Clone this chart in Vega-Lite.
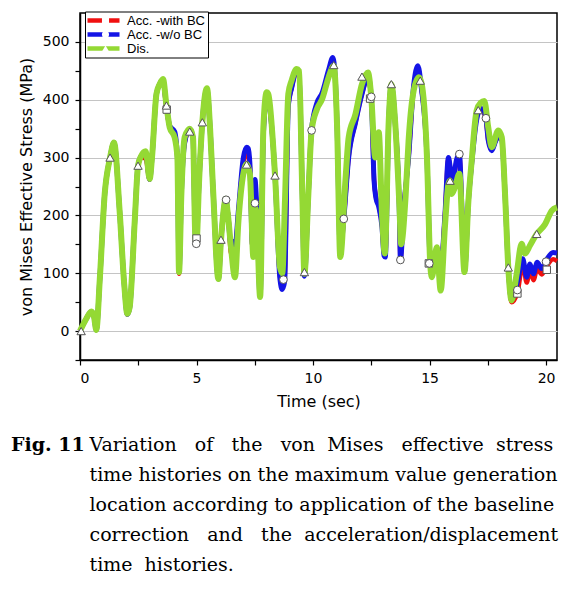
{
  "$schema": "https://vega.github.io/schema/vega-lite/v6.json",
  "autosize": {"type": "none"},
  "padding": {"left": 80, "top": 13, "right": 23, "bottom": 230},
  "width": 477,
  "height": 347,
  "background": "white",
  "config": {
    "view": {"stroke": "black", "strokeWidth": 1.5},
    "legend": {"rowPadding": 0},
    "axis": {
      "labelFont": "DejaVu Sans", "labelFontSize": 14, "labelColor": "black",
      "titleFont": "DejaVu Sans", "titleFontSize": 16, "titleFontWeight": "normal", "titleColor": "black",
      "domainColor": "black", "domainWidth": 1.5, "tickColor": "black", "tickWidth": 1.2, "tickSize": 5,
      "gridColor": "#c4c4c4", "gridWidth": 1
    }
  },
  "title": {
    "text": "Fig. 11",
    "subtitle": [
      "\u200b\u00a0\u00a0\u00a0\u00a0\u00a0\u00a0\u00a0\u00a0\u00a0\u00a0\u00a0\u00a0\u00a0Variation \u00a0\u00a0of \u00a0\u00a0the \u00a0\u00a0von \u00a0Mises \u00a0\u00a0effective \u00a0stress",
      "\u200b\u00a0\u00a0\u00a0\u00a0\u00a0\u00a0\u00a0\u00a0\u00a0\u00a0\u00a0\u00a0\u00a0time histories on the maximum value generation",
      "\u200b\u00a0\u00a0\u00a0\u00a0\u00a0\u00a0\u00a0\u00a0\u00a0\u00a0\u00a0\u00a0\u00a0location according to application of the baseline",
      "\u200b\u00a0\u00a0\u00a0\u00a0\u00a0\u00a0\u00a0\u00a0\u00a0\u00a0\u00a0\u00a0\u00a0correction \u00a0\u00a0and \u00a0\u00a0the \u00a0acceleration/displacement",
      "\u200b\u00a0\u00a0\u00a0\u00a0\u00a0\u00a0\u00a0\u00a0\u00a0\u00a0\u00a0\u00a0\u00a0time \u00a0histories."
    ],
    "orient": "bottom", "anchor": "start", "frame": "group", "dx": -69, "offset": 27,
    "font": "DejaVu Serif", "fontSize": 19, "fontWeight": "bold", "color": "black",
    "subtitleFont": "DejaVu Serif", "subtitleFontSize": 19, "subtitleColor": "black",
    "subtitleLineHeight": 30, "subtitlePadding": -19
  },
  "datasets": {
    "dis": [
      {"t":0,"v":0},{"t":0.25,"v":20},{"t":0.49,"v":34},{"t":0.6,"v":25},{"t":0.7,"v":2},{"t":0.85,"v":90},{"t":1.06,"v":237},{"t":1.29,"v":300},{"t":1.46,"v":326},{"t":1.7,"v":208},{"t":1.9,"v":80},{"t":2.03,"v":30},{"t":2.13,"v":41},{"t":2.35,"v":191},{"t":2.49,"v":286},{"t":2.63,"v":303},{"t":2.82,"v":311},{"t":2.99,"v":263},{"t":3.09,"v":300},{"t":3.28,"v":410},{"t":3.42,"v":427},{"t":3.56,"v":436},{"t":3.71,"v":390},{"t":3.85,"v":352},{"t":4.06,"v":335},{"t":4.18,"v":300},{"t":4.25,"v":102},{"t":4.35,"v":237},{"t":4.49,"v":335},{"t":4.71,"v":350},{"t":4.85,"v":335},{"t":4.95,"v":162},{"t":5.0,"v":152},{"t":5.1,"v":250},{"t":5.25,"v":361},{"t":5.45,"v":420},{"t":5.58,"v":352},{"t":5.72,"v":237},{"t":5.94,"v":90},{"t":6.05,"v":157},{"t":6.2,"v":220},{"t":6.25,"v":229},{"t":6.35,"v":200},{"t":6.48,"v":145},{"t":6.65,"v":93},{"t":6.8,"v":191},{"t":7.01,"v":272},{"t":7.15,"v":289},{"t":7.29,"v":272},{"t":7.44,"v":128},{"t":7.51,"v":214},{"t":7.58,"v":200},{"t":7.73,"v":59},{"t":7.87,"v":352},{"t":8.01,"v":413},{"t":8.08,"v":410},{"t":8.37,"v":269},{"t":8.58,"v":111},{"t":8.68,"v":100},{"t":8.8,"v":230},{"t":8.94,"v":410},{"t":9.08,"v":433},{"t":9.3,"v":453},{"t":9.4,"v":450},{"t":9.54,"v":237},{"t":9.63,"v":99},{"t":9.8,"v":237},{"t":9.94,"v":347},{"t":10.17,"v":384},{"t":10.39,"v":401},{"t":10.67,"v":439},{"t":10.89,"v":459},{"t":11.03,"v":358},{"t":11.17,"v":128},{"t":11.39,"v":260},{"t":11.53,"v":335},{"t":11.82,"v":375},{"t":12.1,"v":427},{"t":12.36,"v":447},{"t":12.5,"v":404},{"t":12.67,"v":300},{"t":12.75,"v":330},{"t":12.82,"v":344},{"t":12.96,"v":203},{"t":13.08,"v":134},{"t":13.25,"v":364},{"t":13.36,"v":427},{"t":13.53,"v":358},{"t":13.71,"v":214},{"t":13.78,"v":150},{"t":13.97,"v":231},{"t":14.1,"v":329},{"t":14.32,"v":416},{"t":14.54,"v":439},{"t":14.65,"v":430},{"t":14.89,"v":300},{"t":15.03,"v":116},{"t":15.1,"v":93},{"t":15.31,"v":145},{"t":15.48,"v":70},{"t":15.66,"v":180},{"t":15.81,"v":254},{"t":15.88,"v":260},{"t":15.95,"v":237},{"t":16.1,"v":250},{"t":16.28,"v":272},{"t":16.5,"v":102},{"t":16.67,"v":226},{"t":16.81,"v":295},{"t":17.02,"v":381},{"t":17.2,"v":395},{"t":17.35,"v":398},{"t":17.52,"v":352},{"t":17.67,"v":318},{"t":17.95,"v":347},{"t":18.1,"v":335},{"t":18.24,"v":237},{"t":18.38,"v":110},{"t":18.52,"v":53},{"t":18.74,"v":99},{"t":18.95,"v":151},{"t":19.1,"v":134},{"t":19.31,"v":148},{"t":19.6,"v":168},{"t":19.96,"v":185},{"t":20.24,"v":208},{"t":20.47,"v":214}
    ],
    "wo": [
      {"t":0,"v":0},{"t":0.25,"v":20},{"t":0.49,"v":34},{"t":0.6,"v":25},{"t":0.7,"v":2},{"t":0.85,"v":90},{"t":1.06,"v":237},{"t":1.29,"v":300},{"t":1.46,"v":326},{"t":1.7,"v":208},{"t":1.9,"v":80},{"t":2.03,"v":29},{"t":2.13,"v":40},{"t":2.35,"v":191},{"t":2.49,"v":286},{"t":2.63,"v":303},{"t":2.82,"v":308},{"t":2.99,"v":262},{"t":3.09,"v":300},{"t":3.28,"v":410},{"t":3.42,"v":427},{"t":3.56,"v":434},{"t":3.71,"v":388},{"t":3.85,"v":355},{"t":4.06,"v":345},{"t":4.18,"v":300},{"t":4.25,"v":102},{"t":4.35,"v":237},{"t":4.49,"v":325},{"t":4.71,"v":350},{"t":4.85,"v":335},{"t":4.95,"v":162},{"t":5.0,"v":158},{"t":5.1,"v":250},{"t":5.25,"v":361},{"t":5.45,"v":418},{"t":5.58,"v":352},{"t":5.72,"v":237},{"t":5.94,"v":90},{"t":6.05,"v":157},{"t":6.2,"v":220},{"t":6.25,"v":229},{"t":6.35,"v":200},{"t":6.48,"v":150},{"t":6.58,"v":155},{"t":6.65,"v":145},{"t":6.8,"v":210},{"t":7.01,"v":300},{"t":7.15,"v":318},{"t":7.22,"v":316},{"t":7.29,"v":290},{"t":7.4,"v":150},{"t":7.51,"v":262},{"t":7.58,"v":220},{"t":7.73,"v":60},{"t":7.87,"v":340},{"t":8.01,"v":405},{"t":8.08,"v":400},{"t":8.37,"v":269},{"t":8.58,"v":90},{"t":8.68,"v":72},{"t":8.78,"v":85},{"t":8.94,"v":390},{"t":9.08,"v":420},{"t":9.3,"v":450},{"t":9.4,"v":448},{"t":9.54,"v":237},{"t":9.63,"v":95},{"t":9.8,"v":237},{"t":9.94,"v":350},{"t":10.17,"v":395},{"t":10.39,"v":412},{"t":10.67,"v":452},{"t":10.85,"v":473},{"t":10.95,"v":440},{"t":11.03,"v":358},{"t":11.17,"v":140},{"t":11.32,"v":194},{"t":11.53,"v":300},{"t":11.82,"v":360},{"t":12.1,"v":410},{"t":12.36,"v":440},{"t":12.5,"v":404},{"t":12.62,"v":260},{"t":12.7,"v":230},{"t":12.82,"v":215},{"t":12.96,"v":180},{"t":13.05,"v":130},{"t":13.1,"v":128},{"t":13.25,"v":364},{"t":13.36,"v":425},{"t":13.53,"v":358},{"t":13.71,"v":200},{"t":13.75,"v":123},{"t":13.9,"v":215},{"t":14.1,"v":300},{"t":14.32,"v":425},{"t":14.5,"v":459},{"t":14.65,"v":420},{"t":14.89,"v":300},{"t":15.03,"v":117},{"t":15.1,"v":105},{"t":15.31,"v":130},{"t":15.45,"v":95},{"t":15.66,"v":200},{"t":15.81,"v":300},{"t":15.9,"v":280},{"t":16.0,"v":258},{"t":16.15,"v":295},{"t":16.28,"v":306},{"t":16.4,"v":200},{"t":16.5,"v":102},{"t":16.67,"v":226},{"t":16.81,"v":290},{"t":17.02,"v":365},{"t":17.2,"v":385},{"t":17.35,"v":378},{"t":17.42,"v":368},{"t":17.52,"v":330},{"t":17.67,"v":312},{"t":17.85,"v":330},{"t":17.95,"v":336},{"t":18.1,"v":330},{"t":18.24,"v":237},{"t":18.38,"v":110},{"t":18.52,"v":55},{"t":18.78,"v":87},{"t":19.0,"v":125},{"t":19.17,"v":93},{"t":19.31,"v":116},{"t":19.46,"v":99},{"t":19.62,"v":119},{"t":19.81,"v":108},{"t":20.0,"v":122},{"t":20.3,"v":136},{"t":20.47,"v":135}
    ],
    "bc": [
      {"t":0,"v":0},{"t":0.25,"v":20},{"t":0.49,"v":34},{"t":0.6,"v":25},{"t":0.7,"v":2},{"t":0.85,"v":90},{"t":1.06,"v":237},{"t":1.29,"v":300},{"t":1.46,"v":326},{"t":1.7,"v":208},{"t":1.9,"v":80},{"t":2.03,"v":29},{"t":2.13,"v":40},{"t":2.35,"v":191},{"t":2.49,"v":286},{"t":2.63,"v":300},{"t":2.82,"v":298},{"t":2.99,"v":262},{"t":3.09,"v":300},{"t":3.28,"v":410},{"t":3.42,"v":427},{"t":3.56,"v":432},{"t":3.71,"v":384},{"t":3.85,"v":352},{"t":4.06,"v":340},{"t":4.18,"v":300},{"t":4.25,"v":99},{"t":4.35,"v":237},{"t":4.49,"v":325},{"t":4.71,"v":348},{"t":4.85,"v":335},{"t":4.95,"v":165},{"t":5.0,"v":160},{"t":5.1,"v":250},{"t":5.25,"v":361},{"t":5.45,"v":416},{"t":5.58,"v":350},{"t":5.72,"v":237},{"t":5.94,"v":90},{"t":6.05,"v":157},{"t":6.2,"v":205},{"t":6.25,"v":210},{"t":6.35,"v":205},{"t":6.48,"v":135},{"t":6.58,"v":140},{"t":6.65,"v":140},{"t":6.8,"v":205},{"t":7.01,"v":290},{"t":7.15,"v":305},{"t":7.22,"v":305},{"t":7.29,"v":285},{"t":7.4,"v":145},{"t":7.51,"v":240},{"t":7.58,"v":215},{"t":7.73,"v":60},{"t":7.87,"v":340},{"t":8.01,"v":405},{"t":8.08,"v":400},{"t":8.37,"v":269},{"t":8.58,"v":95},{"t":8.68,"v":80},{"t":8.78,"v":88},{"t":8.94,"v":390},{"t":9.08,"v":420},{"t":9.3,"v":448},{"t":9.4,"v":446},{"t":9.54,"v":237},{"t":9.63,"v":97},{"t":9.8,"v":237},{"t":9.94,"v":348},{"t":10.17,"v":392},{"t":10.39,"v":408},{"t":10.67,"v":448},{"t":10.85,"v":465},{"t":10.95,"v":438},{"t":11.03,"v":358},{"t":11.17,"v":138},{"t":11.32,"v":194},{"t":11.53,"v":302},{"t":11.82,"v":360},{"t":12.1,"v":410},{"t":12.36,"v":438},{"t":12.5,"v":404},{"t":12.62,"v":262},{"t":12.7,"v":232},{"t":12.82,"v":218},{"t":12.96,"v":182},{"t":13.05,"v":134},{"t":13.1,"v":132},{"t":13.25,"v":364},{"t":13.36,"v":425},{"t":13.53,"v":358},{"t":13.71,"v":202},{"t":13.75,"v":126},{"t":13.9,"v":215},{"t":14.1,"v":300},{"t":14.32,"v":422},{"t":14.5,"v":452},{"t":14.65,"v":420},{"t":14.89,"v":300},{"t":15.03,"v":117},{"t":15.1,"v":105},{"t":15.31,"v":130},{"t":15.45,"v":95},{"t":15.66,"v":200},{"t":15.81,"v":298},{"t":15.9,"v":278},{"t":16.0,"v":256},{"t":16.15,"v":292},{"t":16.28,"v":302},{"t":16.4,"v":200},{"t":16.5,"v":102},{"t":16.67,"v":226},{"t":16.81,"v":290},{"t":17.02,"v":368},{"t":17.2,"v":385},{"t":17.35,"v":376},{"t":17.42,"v":366},{"t":17.52,"v":330},{"t":17.67,"v":314},{"t":17.85,"v":330},{"t":17.95,"v":336},{"t":18.1,"v":330},{"t":18.24,"v":237},{"t":18.38,"v":108},{"t":18.52,"v":50},{"t":18.78,"v":68},{"t":19.0,"v":115},{"t":19.17,"v":84},{"t":19.31,"v":105},{"t":19.46,"v":88},{"t":19.62,"v":108},{"t":19.81,"v":98},{"t":20.0,"v":110},{"t":20.3,"v":124},{"t":20.47,"v":121}
    ],
    "disMarks": [
      {"t":0.05,"v":0},{"t":1.29,"v":300},{"t":2.49,"v":286},{"t":3.71,"v":390},{"t":4.71,"v":345},{"t":5.25,"v":361},{"t":6.05,"v":158},{"t":7.15,"v":288},{"t":8.37,"v":269},{"t":9.63,"v":102},{"t":10.89,"v":460},{"t":12.1,"v":440},{"t":13.36,"v":427},{"t":14.6,"v":433},{"t":15.88,"v":260},{"t":17.09,"v":382},{"t":18.38,"v":110},{"t":19.6,"v":168}
    ],
    "woMarks": [
      {"t":4.99,"v":151},{"t":6.27,"v":227},{"t":7.51,"v":221},{"t":8.73,"v":89},{"t":9.94,"v":347},{"t":11.32,"v":194},{"t":12.5,"v":405},{"t":13.75,"v":123},{"t":14.99,"v":117},{"t":16.28,"v":306},{"t":17.42,"v":368},{"t":18.77,"v":71},{"t":20.0,"v":120}
    ],
    "bcMarks": [
      {"t":3.72,"v":383},{"t":5.0,"v":160},{"t":12.45,"v":402},{"t":14.97,"v":117},{"t":18.77,"v":65},{"t":20.03,"v":106}
    ]
  },
  "encoding": {
    "x": {
      "field": "t", "type": "quantitative",
      "scale": {"domain": [0, 20.47], "nice": false, "zero": false},
      "axis": {
        "title": "Time (sec)", "values": [0, 2.5, 5, 7.5, 10, 12.5, 15, 17.5, 20],
        "labelExpr": "datum.value % 5 === 0 ? datum.label : ''",
        "grid": false, "labelPadding": 6, "titlePadding": 8
      }
    },
    "y": {
      "field": "v", "type": "quantitative",
      "scale": {"domain": [-50, 550], "nice": false, "zero": false},
      "axis": {
        "title": "von Mises Effective Stress (MPa)",
        "values": [-50, 0, 50, 100, 150, 200, 250, 300, 350, 400, 450, 500],
        "labelExpr": "datum.value % 100 === 0 ? datum.label : ''",
        "grid": true,
        "gridOpacity": {"condition": {"test": "datum.value % 100 !== 0", "value": 0}, "value": 1},
        "labelPadding": 6, "titlePadding": 8
      }
    }
  },
  "layer": [
    {
      "data": {"name": "bc"},
      "mark": {"type": "line", "strokeWidth": 4.5, "interpolate": "monotone"},
      "encoding": {
        "color": {
          "datum": "Acc. -with BC", "type": "nominal",
          "scale": {"domain": ["Acc. -with BC", "Acc. -w/o BC", "Dis."], "range": ["#f01010", "#1414e6", "#94d934"]},
          "legend": {
            "orient": "none", "legendX": 5, "legendY": -1.5, "title": null, "zindex": 1,
            "symbolType": "stroke", "symbolSize": 1024, "symbolStrokeWidth": 4.5, "symbolOffset": -2,
            "strokeColor": "black", "fillColor": "white", "padding": 2,
            "labelFont": "Liberation Sans", "labelFontSize": 13, "labelColor": "black", "labelOffset": 5,
            "clipHeight": 14, "rowPadding": 0
          }
        }
      }
    },
    {
      "data": {"name": "wo"},
      "mark": {"type": "line", "strokeWidth": 5, "interpolate": "monotone"},
      "encoding": {"color": {"datum": "Acc. -w/o BC", "type": "nominal"}}
    },
    {
      "data": {"name": "dis"},
      "mark": {"type": "line", "strokeWidth": 6, "interpolate": "monotone"},
      "encoding": {"color": {"datum": "Dis.", "type": "nominal"}}
    },
    {
      "data": {"name": "bcMarks"},
      "mark": {"type": "point", "filled": false, "fill": "white", "stroke": "#555", "strokeWidth": 1, "size": 55, "opacity": 1},
      "encoding": {
        "shape": {
          "datum": "m1", "type": "nominal",
          "scale": {"domain": ["m1", "m2", "m3"], "range": ["square", "circle", "triangle-up"]},
          "legend": {
            "orient": "none", "legendX": 5, "legendY": -1.5, "title": null, "zindex": 2,
            "symbolFillColor": "white", "symbolStrokeColor": "#444", "symbolStrokeWidth": 1, "symbolSize": 50,
            "symbolOffset": 12, "padding": 2,
            "labelFont": "Liberation Sans", "labelFontSize": 13, "labelOpacity": 0,
            "clipHeight": 14, "rowPadding": 0,
            "encode": {"symbols": {"stroke": {"value": "#444"}, "strokeWidth": {"value": 1}, "fill": {"value": "white"}, "opacity": {"value": 1}, "strokeOpacity": {"value": 1}, "fillOpacity": {"value": 1}}}
          }
        }
      }
    },
    {
      "data": {"name": "woMarks"},
      "mark": {"type": "point", "filled": false, "fill": "white", "stroke": "#555", "strokeWidth": 1, "size": 60, "opacity": 1},
      "encoding": {"shape": {"datum": "m2", "type": "nominal"}}
    },
    {
      "data": {"name": "disMarks"},
      "mark": {"type": "point", "filled": false, "fill": "white", "stroke": "#555", "strokeWidth": 1, "size": 70, "opacity": 1},
      "encoding": {"shape": {"datum": "m3", "type": "nominal"}}
    }
  ]
}
